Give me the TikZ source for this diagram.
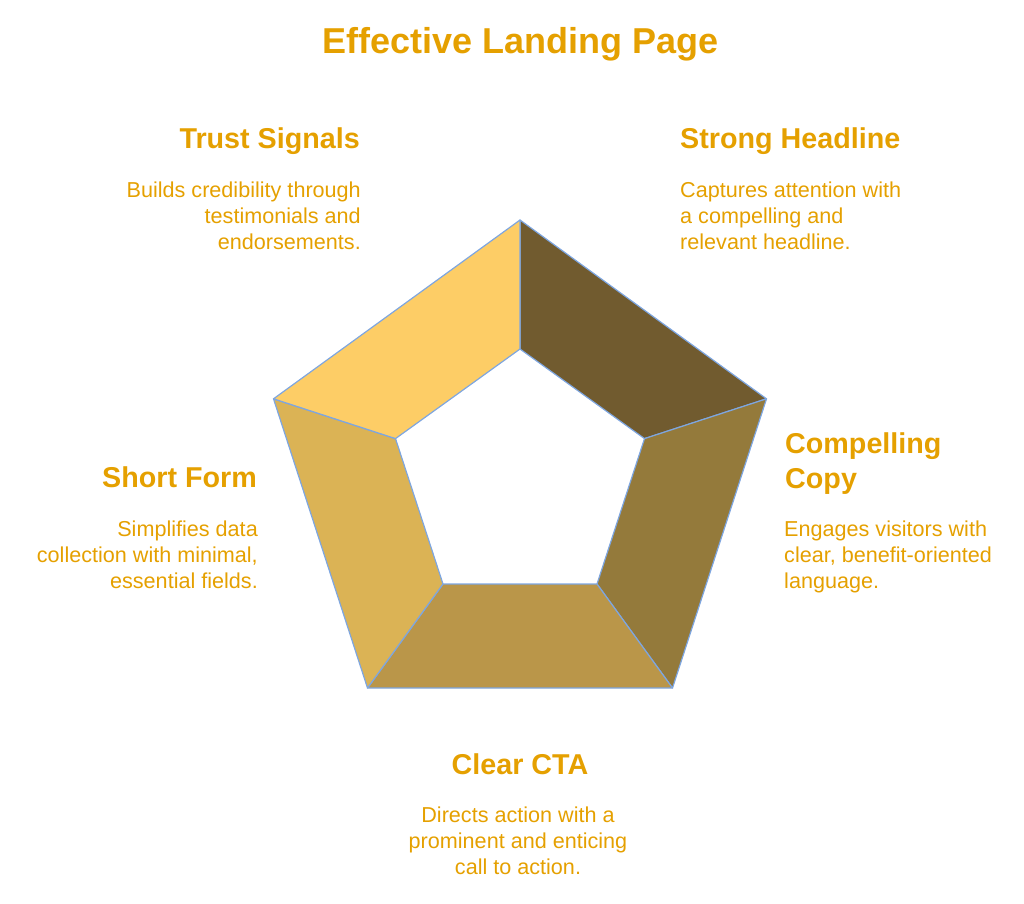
\documentclass[tikz,border=0pt]{standalone}
\usepackage{fontspec}
\setmainfont{Liberation Sans}
\definecolor{txt}{HTML}{E5A000}
\definecolor{segA}{HTML}{715B2F}
\definecolor{segB}{HTML}{947A3B}
\definecolor{segC}{HTML}{BA9649}
\definecolor{segD}{HTML}{DBB355}
\definecolor{segE}{HTML}{FDCD66}
\definecolor{edge}{HTML}{7EA6E0}
\tikzset{
  seg/.style={draw=edge, line width=1.2pt, line join=round},
  ttl/.style={text=txt, font=\fontsize{36}{40}\selectfont\bfseries, inner sep=0pt},
  hd/.style={text=txt, font=\fontsize{28.7}{35}\selectfont\bfseries, inner sep=0pt},
  bd/.style={text=txt, font=\fontsize{21.6}{26}\selectfont, inner sep=0pt},
}
\begin{document}
\begin{tikzpicture}[x=1pt,y=-1pt]
\useasboundingbox (0,0) rectangle (1024,903);
% outer vertices
\coordinate (o1) at (520,220);
\coordinate (o2) at (766.5,398.8);
\coordinate (o3) at (672.5,688);
\coordinate (o4) at (367.5,688);
\coordinate (o5) at (273.5,398.8);
% inner vertices
\coordinate (i1) at (520,349);
\coordinate (i2) at (644.5,438.6);
\coordinate (i3) at (597,584);
\coordinate (i4) at (443,584);
\coordinate (i5) at (395.5,438.6);
% segments
\filldraw[seg, fill=segA] (o1) -- (o2) -- (i2) -- (i1) -- cycle;
\filldraw[seg, fill=segB] (o2) -- (o3) -- (i3) -- (i2) -- cycle;
\filldraw[seg, fill=segC] (o3) -- (o4) -- (i4) -- (i3) -- cycle;
\filldraw[seg, fill=segD] (o4) -- (o5) -- (i5) -- (i4) -- cycle;
\filldraw[seg, fill=segE] (o5) -- (o1) -- (i1) -- (i5) -- cycle;
% title
\node[ttl, anchor=base] (title) at (520.5,53.5) {Effective Landing Page};
% Trust Signals
\node[hd, anchor=base east] (trustH) at (360,148) {Trust Signals};
\node[bd, anchor=north east, align=right] (trustB) at (361,182) {Builds credibility through\\testimonials and\\endorsements.};
% Strong Headline
\node[hd, anchor=base west] (headH) at (680,148) {Strong Headline};
\node[bd, anchor=north west, align=left] (headB) at (680,182) {Captures attention with\\a compelling and\\relevant headline.};
% Compelling Copy
\node[hd, anchor=north west, align=left] (copyH) at (785,432.7) {Compelling\\Copy};
\node[bd, anchor=north west, align=left] (copyB) at (784,520.2) {Engages visitors with\\clear, benefit-oriented\\language.};
% Short Form
\node[hd, anchor=base east] (formH) at (257,487.5) {Short Form};
\node[bd, anchor=north east, align=right] (formB) at (258,520.2) {Simplifies data\\collection with minimal,\\essential fields.};
% Clear CTA
\node[hd, anchor=base] (ctaH) at (520,774.5) {Clear CTA};
\node[bd, anchor=north, align=center] (ctaB) at (518,807) {Directs action with a\\prominent and enticing\\call to action.};
\end{tikzpicture}
\end{document}
